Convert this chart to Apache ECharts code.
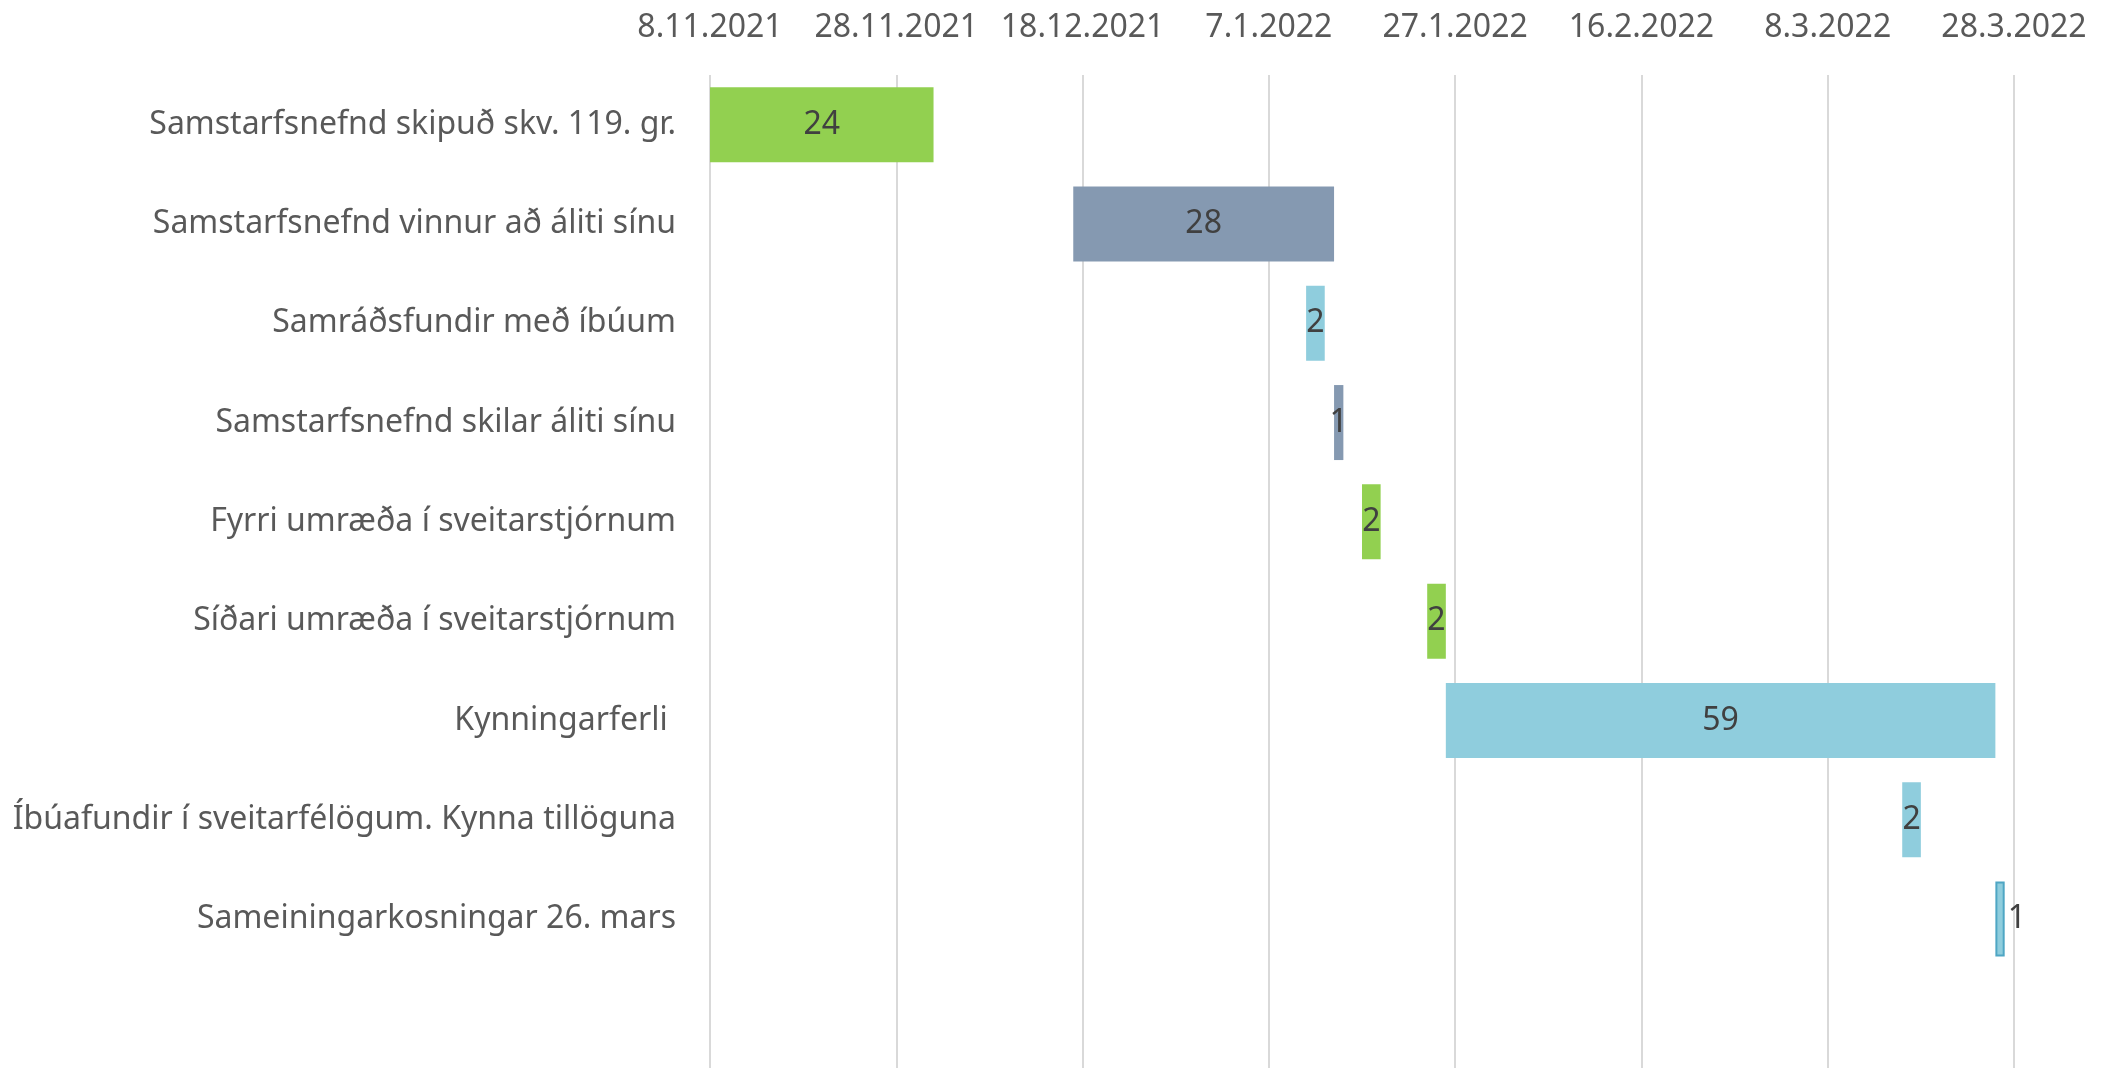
<!DOCTYPE html>
<html>
<head>
<meta charset="utf-8">
<script src="https://cdn.jsdelivr.net/npm/echarts@6/dist/echarts.min.js"></script>
<style>
  html, body { margin: 0; padding: 0; background: #fff; }
  #main { width: 2108px; height: 1068px; }
</style>
</head>
<body>
<div id="main"></div>
<script>
// verkþættir (the last, empty one only leaves a blank row at the bottom)
var tasks = [
  'Samstarfsnefnd skipuð skv. 119. gr.',
  'Samstarfsnefnd vinnur að áliti sínu',
  'Samráðsfundir með íbúum',
  'Samstarfsnefnd skilar áliti sínu',
  'Fyrri umræða í sveitarstjórnum',
  'Síðari umræða í sveitarstjórnum',
  'Kynningarferli ',
  'Íbúafundir í sveitarfélögum. Kynna tillöguna',
  'Sameiningarkosningar 26. mars',
  ''
];
var startDates = ['2021-11-08', '2021-12-17', '2022-01-11', '2022-01-14', '2022-01-17',
                  '2022-01-24', '2022-01-26', '2022-03-16', '2022-03-26'];
var durations = [24, 28, 2, 1, 2, 2, 59, 2, 1];
var barColors = ['#92d050', '#8599b1', '#8fcddd', '#8599b1', '#92d050',
                 '#92d050', '#8fcddd', '#8fcddd', '#8fcddd'];
var firstTick = '2021-11-08';
var lastTick = '2022-03-28';
var tickStepDays = 20;

var DAY = 86400000;
function dayOffset(s) {
  return Math.round((Date.parse(s) - Date.parse(firstTick)) / DAY);
}
function dateLabel(d) {
  var t = new Date(Date.parse(firstTick) + d * DAY);
  return t.getUTCDate() + '.' + (t.getUTCMonth() + 1) + '.' + t.getUTCFullYear();
}

var offsets = startDates.map(dayOffset);
var durData = durations.map(function (v, i) {
  var item = { value: v, itemStyle: { color: barColors[i] } };
  if (i === durations.length - 1) {
    item.itemStyle.borderColor = '#4fa6c4';
    item.itemStyle.borderWidth = 2;
    item.label = { position: 'right', distance: 3 };
  }
  return item;
});

var chart = echarts.init(document.getElementById('main'));
var font = 'Noto Sans';
var option = {
  animation: false,
  grid: { left: 710, right: 94, top: 75, bottom: -2, containLabel: false },
  xAxis: {
    type: 'value',
    position: 'top',
    min: 0,
    max: dayOffset(lastTick),
    interval: tickStepDays,
    axisLine: { show: false },
    axisTick: { show: false },
    splitLine: { show: true, lineStyle: { color: '#d9d9d9', width: 2 } },
    axisLabel: {
      formatter: dateLabel,
      color: '#595959',
      fontFamily: font,
      fontSize: 32,
      margin: 31
    }
  },
  yAxis: {
    type: 'category',
    inverse: true,
    data: tasks,
    axisLine: { show: false },
    axisTick: { show: false },
    axisLabel: {
      color: '#595959',
      fontFamily: font,
      fontSize: 32,
      margin: 34
    }
  },
  series: [
    {
      name: 'upphaf',
      type: 'bar',
      stack: 'gantt',
      barWidth: 75,
      itemStyle: { color: 'transparent' },
      emphasis: { disabled: true },
      data: offsets
    },
    {
      name: 'dagar',
      type: 'bar',
      stack: 'gantt',
      barWidth: 75,
      label: {
        show: true,
        position: 'inside',
        color: '#404040',
        fontFamily: font,
        fontSize: 32
      },
      data: durData
    }
  ]
};
chart.setOption(option);
</script>
</body>
</html>
